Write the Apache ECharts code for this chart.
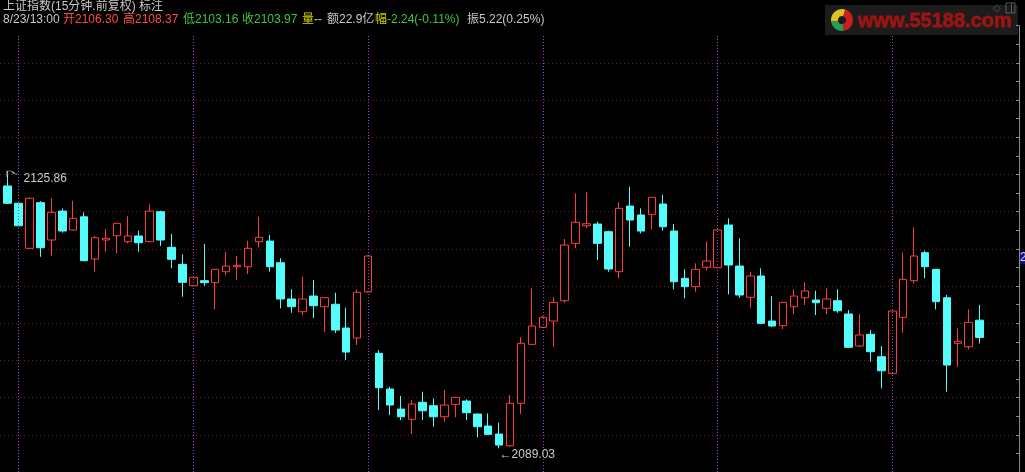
<!DOCTYPE html>
<html><head><meta charset="utf-8">
<script src="https://cdn.jsdelivr.net/npm/echarts@6/dist/echarts.min.js"></script>
<style>html,body{margin:0;padding:0;background:#000;}#c{width:1025px;height:472px;}</style>
</head><body><div id="c"></div><script>
// ---- data ----
const days = ['8/16','8/17','8/20','8/21','8/22','8/23'];
const times = ['09:30','09:45','10:00','10:15','10:30','10:45','11:00','11:15','13:00','13:15','13:30','13:45','14:00','14:15','14:30','14:45'];
const lastDayBars = 9;
const padSlots = ['', ' ', '  '];

const opens = [2124.38,2122.05,2115.98,2122.13,2117.10,2121.00,2118.45,2120.23,2114.54,2117.10,
2117.68,2116.87,2117.64,2116.87,2120.91,2116.11,2113.82,2110.94,2111.62,2111.35,
2112.83,2113.50,2113.50,2116.87,2116.96,2114.04,2109.15,2107.44,2109.55,2108.11,
2108.44,2105.24,2103.89,2110.13,2101.83,2097.02,2094.32,2092.94,2095.23,2094.77,
2093.28,2094.96,2095.40,2093.65,2092.03,2090.95,2089.38,2095.09,2103.04,2105.33,
2106.18,2108.92,2116.65,2119.02,2119.25,2118.22,2112.83,2121.68,2120.47,2120.56,
2121.95,2118.31,2111.94,2110.81,2113.42,2113.37,2119.12,2113.59,2109.38,2112.25,
2106.18,2105.55,2108.11,2109.32,2109.01,2107.89,2108.92,2107.13,2102.81,2104.39,
2101.37,2099.13,2106.68,2111.62,2115.39,2113.15,2109.32,2103.18,2102.72,2106.30];
const closes = [2122.05,2119.02,2122.72,2116.06,2120.83,2118.31,2120.02,2114.31,2117.41,2117.33,
2119.35,2117.64,2116.73,2121.00,2117.10,2114.50,2111.40,2112.07,2111.35,2113.15,
2113.59,2113.69,2115.98,2117.46,2113.50,2109.15,2108.11,2109.15,2108.25,2109.32,
2104.97,2102.00,2110.05,2114.94,2097.19,2094.86,2093.28,2095.00,2094.09,2093.28,
2094.86,2095.90,2093.83,2091.94,2090.91,2089.47,2095.09,2103.18,2105.51,2106.68,
2108.70,2116.42,2119.49,2119.29,2116.65,2113.19,2121.37,2119.79,2118.31,2122.85,
2118.89,2111.48,2110.81,2113.15,2114.27,2118.45,2113.73,2109.69,2112.25,2105.87,
2105.51,2108.70,2109.55,2110.23,2108.65,2109.15,2107.57,2102.64,2104.30,2102.05,
2099.48,2107.53,2111.80,2114.94,2113.50,2108.79,2100.25,2103.45,2106.01,2103.97];
const lows = [2121.95,2118.95,2115.88,2114.84,2114.98,2118.09,2118.38,2114.25,2112.83,2115.52,
2115.31,2116.65,2115.52,2116.80,2116.29,2113.29,2109.46,2110.90,2110.94,2107.76,
2112.38,2111.71,2112.52,2116.11,2112.83,2107.89,2107.30,2106.99,2106.59,2104.70,
2104.57,2100.93,2102.95,2110.05,2094.19,2093.51,2092.84,2090.95,2092.84,2091.94,
2092.61,2093.20,2092.84,2090.51,2090.85,2089.03,2089.24,2093.65,2103.00,2105.24,
2102.72,2108.65,2115.98,2118.68,2114.40,2112.83,2111.94,2116.20,2118.00,2118.54,
2118.35,2110.45,2109.24,2110.13,2112.99,2113.30,2109.78,2109.32,2107.98,2105.78,
2105.42,2105.11,2107.13,2108.34,2106.99,2107.13,2107.30,2102.60,2102.72,2100.70,
2097.11,2099.10,2104.61,2111.26,2111.94,2107.76,2096.65,2100.03,2102.36,2103.16];
const highs = [2125.86,2122.10,2122.83,2122.35,2122.72,2121.37,2122.40,2120.83,2117.64,2118.58,
2119.39,2120.33,2118.35,2121.91,2121.05,2117.91,2115.17,2112.11,2116.56,2113.20,
2115.52,2114.94,2117.00,2120.23,2117.77,2114.63,2110.45,2112.15,2111.71,2109.40,
2110.00,2107.98,2110.45,2115.00,2102.27,2097.33,2096.08,2095.54,2096.65,2095.76,
2096.88,2095.95,2095.63,2093.70,2093.74,2092.48,2096.21,2103.99,2110.59,2106.86,
2109.38,2117.23,2123.39,2123.53,2119.57,2118.35,2122.18,2124.28,2121.37,2122.90,
2123.17,2119.25,2113.15,2113.96,2116.90,2118.52,2120.02,2117.33,2112.83,2113.29,
2109.55,2108.74,2110.45,2111.40,2110.27,2110.59,2110.45,2107.66,2107.13,2104.97,
2102.81,2107.60,2115.39,2118.81,2115.66,2113.20,2109.69,2105.20,2107.76,2108.37];

const highLabel = '2125.86';
const lowLabel = '2089.03';
const titleLine = '上证指数(15分钟.前复权) 标注';

// ---- build ----
const categories = ['8/15/14:45'];
const dayStarts = [];
days.forEach((d, di) => {
  const n = (di === days.length - 1) ? lastDayBars : times.length;
  for (let i = 0; i < n; i++) {
    const c = d + '/' + times[i];
    if (i === 0) dayStarts.push(c);
    categories.push(c);
  }
});
const allCats = categories.concat(padSlots);
const kdata = opens.map((o, i) => [o, closes[i], lows[i], highs[i]]);
const hiIdx = highs.indexOf(Math.max(...highs));
const loIdx = lows.indexOf(Math.min(...lows));

const FONT = '12px "Liberation Sans","Noto Sans CJK SC",sans-serif';
const GREY = '#c8c8c8', RED = '#ff4a4a', GREEN = '#3cc83c', YEL = '#d2d200';

const headerPieces = [
  [3, '8/23/13:00', GREY], [63, '开2106.30', RED], [123, '高2108.37', RED],
  [183, '低2103.16', GREEN], [242, '收2103.97', GREEN], [302, '量', YEL], [314, '--', GREY],
  [327, '额22.9亿', GREY], [375, '幅', YEL], [387, '-2.24(-0.11%)', GREEN], [467, '振5.22(0.25%)', GREY]
];

const graphics = [
  {type:'text', x:3, y:6.5, silent:true, style:{text:titleLine, fill:GREY, font:FONT, textVerticalAlign:'middle'}},
  ...headerPieces.map(p => ({type:'text', x:p[0], y:19.5, silent:true,
      style:{text:p[1], fill:p[2], font:FONT, textVerticalAlign:'middle'}})),
  // logo
  {type:'rect', shape:{x:825, y:5, width:193, height:30}, style:{fill:'#1c1c1c'}, silent:true},
  {type:'sector', shape:{cx:842, cy:20, r:11, r0:4, startAngle:Math.PI*0.95, endAngle:Math.PI*1.6}, style:{fill:'#e0c020'}, silent:true},
  {type:'sector', shape:{cx:842, cy:20, r:11, r0:4, startAngle:Math.PI*1.6, endAngle:Math.PI*2.45}, style:{fill:'#c82020'}, silent:true},
  {type:'sector', shape:{cx:842, cy:20, r:11, r0:4, startAngle:Math.PI*0.45, endAngle:Math.PI*0.95}, style:{fill:'#20a050'}, silent:true},
  {type:'text', x:858, y:21, silent:true, style:{text:'www.55188.com', fill:'#9c1414', stroke:'#9c1414', lineWidth:0.8, font:'bold 20px "Liberation Sans",sans-serif', textVerticalAlign:'middle'}},
  {type:'text', x:993, y:8, silent:true, style:{text:'◇', fill:'#5a5a5a', font:'10px "DejaVu Sans"', textVerticalAlign:'middle'}},
  {type:'rect', shape:{x:1006, y:3, width:9, height:10}, style:{fill:'none', stroke:'#5a5a5a', lineWidth:1}, silent:true},
  {type:'line', shape:{x1:1011.5, y1:3, x2:1011.5, y2:13}, style:{stroke:'#5a5a5a', lineWidth:1}, silent:true},
  // right axis price tag (clipped by the window edge)
  {type:'text', x:1019, y:252, silent:true, style:{text:'2114.67', fill:'#d8d8ff', font:FONT, backgroundColor:'#10108a', padding:[0,1,0,1]}}
];

const chart = echarts.init(document.getElementById('c'), null, {renderer:'canvas'});
chart.setOption({
  backgroundColor:'#000000',
  animation:false,
  grid:[
    {left:2.24, top:36, width:1015.6, height:436},
    {left:0, top:25.73, width:1019, height:459.24}
  ],
  xAxis:[
    {type:'category', gridIndex:0, data:allCats, show:false, boundaryGap:true},
    {type:'value', gridIndex:1, min:0, max:1, show:false}
  ],
  yAxis:[
    {type:'value', gridIndex:0, min:2085.84, max:2144.59, show:false, splitLine:{show:false}},
    {type:'value', gridIndex:1, min:0, max:12, interval:1, position:'right',
      axisLine:{show:true, onZero:false, lineStyle:{color:'#8c8c8c', width:1}},
      axisTick:{show:true, inside:true, length:3, lineStyle:{color:'#8c8c8c'}},
      minorTick:{show:true, splitNumber:2, length:3, lineStyle:{color:'#8c8c8c'}},
      axisLabel:{show:false},
      splitLine:{show:true, showMinLine:false, showMaxLine:false, lineStyle:{color:'#5c2626', type:[1,3], width:1}}
    }
  ],
  graphic:graphics,
  series:[
    {type:'line', xAxisIndex:1, yAxisIndex:1, data:[], silent:true},
    {
      type:'candlestick', xAxisIndex:0, yAxisIndex:0, data:kdata, barWidth:8, clip:false,
      itemStyle:{color:'#000000', color0:'#54fcfc', borderColor:'#ff3c3c', borderColor0:'#54fcfc', borderWidth:1},
      markLine:{
        silent:true, symbol:['none','none'], label:{show:false}, animation:false,
        lineStyle:{color:'#a040d0', type:[1,2], width:1},
        emphasis:{disabled:true},
        data: dayStarts.map(c => ({xAxis:c}))
      },
      markPoint:{
        silent:true, animation:false,
        data:[
          {coord:[hiIdx, highs[hiIdx]], symbol:'path://M0,10 L0,0 L4,0 C6,0 6,5 8,5 L11,5', symbolSize:[11,6], symbolOffset:[5,-1],
            itemStyle:{color:'none', borderColor:GREY, borderWidth:1},
            label:{show:true, position:'right', distance:2, offset:[0,5], formatter:highLabel, color:GREY, fontSize:12, fontFamily:'"Liberation Sans",sans-serif'}},
          {coord:[loIdx, lows[loIdx]], symbol:'rect', symbolSize:1, itemStyle:{color:'rgba(0,0,0,0)'},
            label:{show:true, position:'right', distance:0, offset:[0,6], formatter:'←' + lowLabel, color:GREY, fontSize:12, fontFamily:'"Liberation Sans","DejaVu Sans",sans-serif'}}
        ]
      }
    }
  ]
});
</script></body></html>
